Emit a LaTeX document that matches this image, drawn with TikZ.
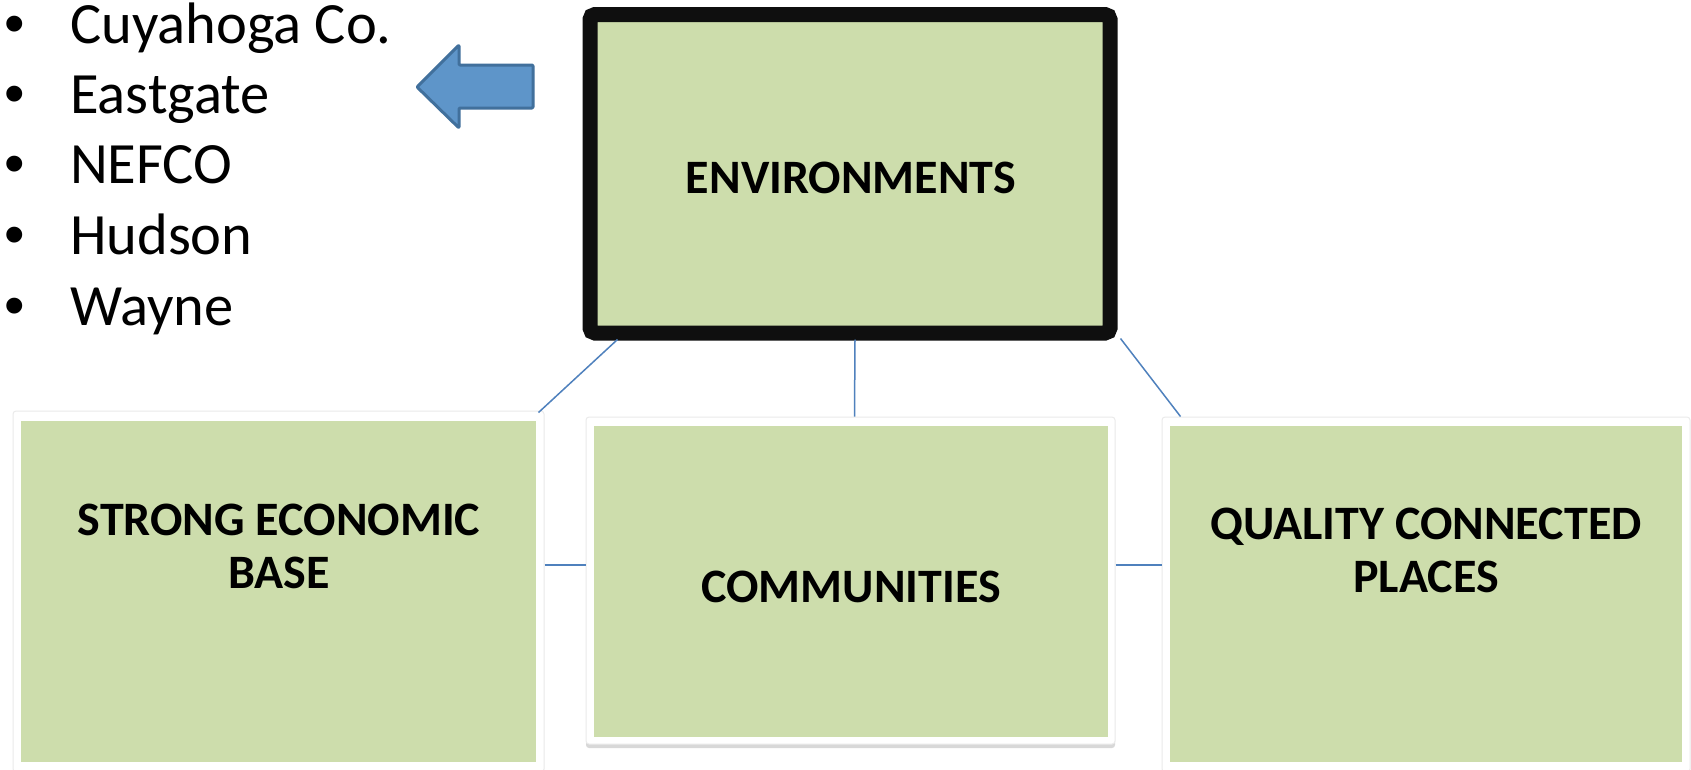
\documentclass[tikz,border=0pt]{standalone}
\usepackage{fontspec}
\setmainfont{Carlito}
\newfontfamily\bulletfont{Liberation Sans}
\usetikzlibrary{shadows,calc}
\definecolor{boxgreen}{HTML}{CDDDAC}
\definecolor{linkblue}{HTML}{4F81BD}
\definecolor{arrowfill}{HTML}{5E95C9}
\definecolor{arrowedge}{HTML}{41709C}
\definecolor{frameblack}{HTML}{0F0F0F}
\newcommand{\blt}{\makebox[66pt][l]{\bulletfont •}}
\begin{document}
\begin{tikzpicture}[x=1pt,y=-1pt,
  topbox/.style={draw=frameblack, line width=15pt, fill=boxgreen, rounded corners=5pt,
    inner sep=0pt, minimum width=520pt, minimum height=318.5pt,
    drop shadow={opacity=0.25, shadow xshift=1pt, shadow yshift=-3pt}},
  whiteframe/.style={fill=white, draw=black!8, line width=1pt, rounded corners=3pt, inner sep=0pt,
    drop shadow={opacity=0.3, shadow xshift=0pt, shadow yshift=-4pt}},
  greenfill/.style={fill=boxgreen, draw=none, inner sep=0pt},
  lbl/.style={font=\fontsize{48}{53}\selectfont\bfseries, align=center, inner sep=0pt, text=black},
  item/.style={font=\fontsize{58.5}{71}\selectfont, anchor=base west, inner sep=0pt, text=black},
  link/.style={draw=linkblue, line width=1.5pt},
  bigarrow/.style={fill=arrowfill, draw=arrowedge, line width=3pt, line join=round, rounded corners=1pt}
]
\useasboundingbox (0,0) rectangle (1691,769);
\fill[white] (0,0) rectangle (1691,769);

% bullet list
\node[item] (i1) at (4,43) {\blt Cuyahoga Co.};
\node[item] (i2) at (4,113) {\blt Eastgate};
\node[item] (i3) at (4,183) {\blt NEFCO};
\node[item] (i4) at (4,254) {\blt Hudson};
\node[item] (i5) at (4,325) {\blt Wayne};

% block arrow
\draw[bigarrow] (417,87) -- (459,45) -- (459,65) -- (533,65) -- (533,108)
  -- (459,108) -- (459,128) -- cycle;

% top box
\node[topbox] (env) at (850,173.75) {};
\node[lbl] (envtext) at (851,178) {ENVIRONMENTS};

% bottom boxes
\node[whiteframe, minimum width=531pt, minimum height=361pt] (seb) at (278.5,591.5) {};
\node[greenfill, minimum width=515pt, minimum height=341pt] (sebin) at (seb.center) {};
\node[lbl] (sebtext) at (279,546.5) {STRONG ECONOMIC\\BASE};

\node[whiteframe, minimum width=529pt, minimum height=327pt] (com) at (850.5,580.5) {};
\node[greenfill, minimum width=514pt, minimum height=311pt] (comin) at (851,581.5) {};
\node[lbl] (comtext) at (851,587) {COMMUNITIES};

\node[whiteframe, minimum width=528pt, minimum height=355pt] (qcp) at (1426,594.5) {};
\node[greenfill, minimum width=512pt, minimum height=336pt] (qcpin) at (1426,594) {};
\node[lbl] (qcptext) at (1426,550.5) {QUALITY CONNECTED\\PLACES};

% connectors
\draw[link] ($(env.south west)+(35,-1)$) -- ($(seb.north east)+(-6,2)$);
\draw[link] ($(env.south)+(5,-1)$) -- ($(com.north)+(4,0)$);
\draw[link] ($(env.south east)+(3,-2)$) -- ($(qcp.north west)+(19,0)$);
\draw[link] ($(seb.east)+(0,-26.5)$) -- ($(com.west)+(0,-15.5)$);
\draw[link] ($(com.east)+(0,-15.5)$) -- ($(qcp.west)+(0,-29.5)$);
\end{tikzpicture}
\end{document}
